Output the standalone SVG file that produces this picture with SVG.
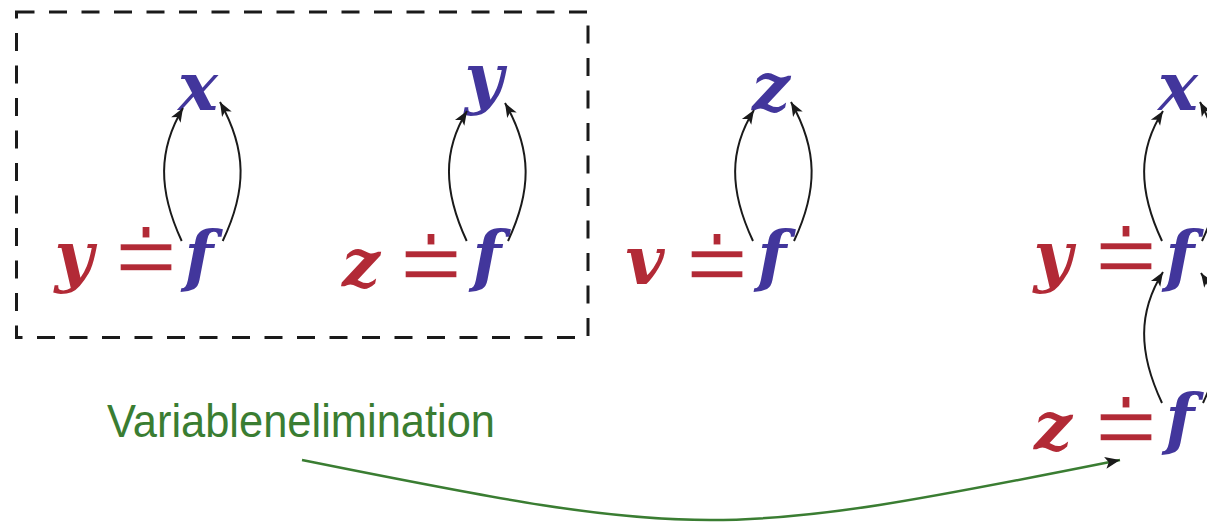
<svg xmlns="http://www.w3.org/2000/svg" width="1207" height="522" viewBox="0 0 1207 522">
<style>
.m{font-family:"DejaVu Serif","Liberation Serif",serif;font-style:italic;font-weight:bold;font-size:67px;text-anchor:middle}
.r{fill:#b22a36}
.b{fill:#42369c}
.eq{font-family:"DejaVu Sans",sans-serif;font-size:84px;fill:#b22a36;stroke:#ffffff;stroke-width:1.8;text-anchor:middle}
.lbl{font-family:"Liberation Sans",Arial,sans-serif;font-size:46px;fill:#3a7d32}
.a{fill:none;stroke:#1a1a1a;stroke-width:2;marker-end:url(#ah)}
.g{fill:none;stroke:#3a7d32;stroke-width:2.5;marker-end:url(#gh)}
.box{fill:none;stroke:#1a1a1a;stroke-width:3;stroke-dasharray:18 14.5}
</style>
<defs>
<marker id="ah" markerUnits="userSpaceOnUse" markerWidth="16" markerHeight="12" refX="14" refY="5.5" orient="auto" overflow="visible">
<path d="M0,0 L14,5.5 L0,11 L3.5,5.5 Z" fill="#1a1a1a"/>
</marker>
<marker id="gh" markerUnits="userSpaceOnUse" markerWidth="16" markerHeight="12" refX="15" refY="6" orient="auto" overflow="visible">
<path d="M0,0 L15,6 L0,12 L3.5,6 Z" fill="#1a1a1a"/>
</marker>
</defs>
<rect class="box" x="16.5" y="12" width="571.5" height="325.5"/>
<g id="g1">
<text class="m r" x="74" y="279">y</text>
<text class="eq" transform="translate(146,289) scale(1,1.2)">≐</text>
<text class="m b" x="199" y="279">f</text>
<text class="m b" x="198" y="110">x</text>
</g>
<g id="g2">
<text class="m r" x="361" y="286">z</text>
<text class="eq" transform="translate(431,296) scale(1,1.2)">≐</text>
<text class="m b" x="487" y="279">f</text>
<text class="m b" x="484" y="101">y</text>
</g>
<g id="g3">
<text class="m r" x="645" y="284">v</text>
<text class="eq" transform="translate(717,296) scale(1,1.2)">≐</text>
<text class="m b" x="772" y="279">f</text>
<text class="m b" x="771" y="110">z</text>
</g>
<g id="g4">
<text class="m r" x="1053" y="279">y</text>
<text class="eq" transform="translate(1126,288) scale(1,1.2)">≐</text>
<text class="m b" x="1180" y="279">f</text>
<text class="m b" x="1178" y="110">x</text>
<text class="m r" x="1053" y="449">z</text>
<text class="eq" transform="translate(1126,459) scale(1,1.2)">≐</text>
<text class="m b" x="1180" y="442">f</text>
</g>
<g id="label">
<text class="lbl" x="107" y="437" textLength="388" lengthAdjust="spacingAndGlyphs">Variablenelimination</text>
</g>
<g id="connectors">
<path class="a" d="M181.7,241 C158,190 158,150 183,108"/>
<path class="a" d="M222.7,241 C247,190 247,150 220,102"/>
<path class="a" d="M466.7,241 C443,190 443,150 467,111"/>
<path class="a" d="M508,241 C532,190 532,150 505,103"/>
<path class="a" d="M753,241 C729,190 729,150 754,110"/>
<path class="a" d="M794,241 C818,190 818,150 791,102"/>
<path class="a" d="M1162,241 C1138,190 1138,150 1163,111"/>
<path class="a" d="M1202,241 C1226,190 1226,150 1200,102"/>
<path class="a" d="M1162,403 C1138,352 1138,312 1163,272"/>
<path class="a" d="M1203,403 C1227,352 1227,312 1201,273"/>
<path class="g" d="M302,460 C700,540 720,540 1120,460"/>
</g>
</svg>
